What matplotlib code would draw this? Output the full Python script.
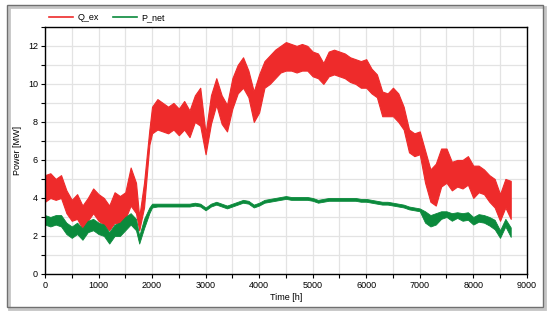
import matplotlib
matplotlib.use("Agg")
import matplotlib.pyplot as plt
from matplotlib.patches import Rectangle
from matplotlib.lines import Line2D
from matplotlib.ticker import MultipleLocator

plt.rcParams['font.family'] = ['Liberation Sans', 'DejaVu Sans']

# hour of year where the envelope was read (about every 100 h)
hours = [0, 100, 200, 300, 400, 500, 600, 700, 800, 900,
         1000, 1100, 1200, 1300, 1400, 1500, 1600, 1700, 1760, 1850,
         1950, 2000, 2100, 2200, 2300, 2400, 2500, 2600, 2700, 2800,
         2900, 3000, 3100, 3200, 3300, 3400, 3500, 3600, 3700, 3800,
         3900, 4000, 4100, 4200, 4300, 4400, 4500, 4600, 4700, 4800,
         4900, 5000, 5100, 5200, 5300, 5400, 5500, 5600, 5700, 5800,
         5900, 6000, 6100, 6200, 6300, 6400, 6500, 6600, 6700, 6800,
         6900, 7000, 7100, 7200, 7300, 7400, 7500, 7600, 7700, 7800,
         7900, 8000, 8100, 8200, 8300, 8400, 8500, 8600, 8700]

# Q_ex upper / lower envelope [MW]
q_hi = [5.2, 5.3, 5.0, 5.2, 4.4, 3.9, 4.2, 3.6, 4.0, 4.5,
        4.2, 4.0, 3.6, 4.3, 4.1, 4.3, 5.6, 4.8, 3.0, 4.8,
        7.6, 8.8, 9.2, 9.0, 8.8, 9.0, 8.7, 9.1, 8.6, 9.4,
        9.8, 7.4, 9.4, 10.3, 9.4, 8.9, 10.3, 11.0, 11.4, 10.7,
        9.6, 10.5, 11.2, 11.5, 11.8, 12.0, 12.2, 12.1, 12.0, 12.1,
        12.0, 11.7, 11.6, 11.1, 11.7, 11.8, 11.7, 11.6, 11.4, 11.3,
        11.2, 11.3, 10.8, 10.5, 9.6, 9.5, 9.8, 9.5, 8.8, 7.6,
        7.4, 7.5, 6.5, 5.5, 5.8, 6.6, 6.6, 5.9, 6.0, 6.0,
        6.2, 5.7, 5.7, 5.5, 5.2, 5.0, 4.2, 5.0, 4.9]
q_lo = [3.8, 4.0, 3.9, 4.0, 3.2, 2.8, 2.9, 2.4, 2.8, 3.2,
        2.8, 2.6, 2.3, 2.7, 2.6, 2.9, 3.6, 3.2, 2.3, 3.5,
        6.8, 7.4, 7.6, 7.5, 7.4, 7.6, 7.3, 7.6, 7.2, 8.0,
        7.8, 6.3, 7.9, 8.9, 7.9, 7.5, 8.7, 9.5, 9.8, 9.3,
        8.0, 8.5, 9.8, 10.0, 10.3, 10.6, 10.7, 10.7, 10.6, 10.7,
        10.7, 10.4, 10.3, 10.0, 10.4, 10.5, 10.4, 10.3, 10.1, 10.0,
        9.8, 9.8, 9.5, 9.3, 8.3, 8.3, 8.3, 8.0, 7.6, 6.4,
        6.2, 6.3, 4.8, 3.8, 3.6, 4.6, 4.8, 4.4, 4.6, 4.5,
        4.7, 4.0, 4.3, 4.2, 3.8, 3.5, 2.8, 3.5, 2.9]

# P_net upper / lower envelope [MW]
p_hi = [3.1, 3.0, 3.1, 3.1, 2.7, 2.5, 2.7, 2.4, 2.8, 2.9,
        2.7, 2.6, 2.2, 2.6, 2.7, 3.0, 3.2, 2.9, 2.0, 2.9,
        3.5, 3.7, 3.7, 3.7, 3.7, 3.7, 3.7, 3.7, 3.7, 3.75,
        3.7, 3.5, 3.7, 3.8, 3.7, 3.6, 3.7, 3.8, 3.9, 3.85,
        3.65, 3.75, 3.9, 3.95, 4.0, 4.05, 4.1, 4.05, 4.05, 4.05,
        4.05, 4.0, 3.9, 3.95, 4.0, 4.0, 4.0, 4.0, 4.0, 4.0,
        3.95, 3.95, 3.9, 3.85, 3.8, 3.8, 3.75, 3.7, 3.65, 3.55,
        3.5, 3.45, 3.3, 3.1, 3.2, 3.3, 3.3, 3.2, 3.25, 3.2,
        3.25, 3.0, 3.15, 3.1, 3.0, 2.85, 2.3, 2.9, 2.45]
p_lo = [2.6, 2.5, 2.6, 2.5, 2.1, 1.9, 2.1, 1.8, 2.2, 2.3,
        2.1, 2.0, 1.6, 2.0, 2.0, 2.3, 2.6, 2.3, 1.6, 2.4,
        3.2, 3.5, 3.55, 3.55, 3.55, 3.55, 3.55, 3.55, 3.55, 3.6,
        3.55, 3.35, 3.55, 3.65, 3.55, 3.45, 3.55, 3.65, 3.75, 3.7,
        3.5, 3.6, 3.75, 3.8, 3.85, 3.9, 3.95, 3.9, 3.9, 3.9,
        3.9, 3.85, 3.75, 3.8, 3.85, 3.85, 3.85, 3.85, 3.85, 3.85,
        3.8, 3.8, 3.75, 3.7, 3.65, 3.65, 3.6, 3.55, 3.5, 3.4,
        3.35, 3.3, 2.7, 2.5, 2.6, 2.9, 3.0, 2.8, 2.95, 2.8,
        2.85, 2.6, 2.75, 2.7, 2.55, 2.35, 1.9, 2.5, 1.95]

red = '#EE2B2B'
green = '#0B8A3C'

fig = plt.figure(figsize=(5.5, 3.14), dpi=100)
ax = fig.add_axes([0.0818, 0.1274, 0.876, 0.787])

# hourly data is so dense it reads as a band between the envelopes
ax.fill_between(hours, q_lo, q_hi, color=red, edgecolor=red, lw=0.8)
ax.fill_between(hours, p_lo, p_hi, color=green, edgecolor=green, lw=0.6)

ax.set_xlim(0, 9000)
ax.set_ylim(0, 13)
ax.xaxis.set_major_locator(MultipleLocator(1000))
ax.xaxis.set_minor_locator(MultipleLocator(500))
ax.yaxis.set_major_locator(MultipleLocator(2))
ax.yaxis.set_minor_locator(MultipleLocator(1))
ax.grid(True, which='both', color='#E3E3E3', lw=0.9)
ax.set_axisbelow(True)
ax.tick_params(which='both', direction='out', length=3, width=0.8,
               labelsize=6.5, colors='black', pad=2)
for s in ax.spines.values():
    s.set_linewidth(1.0)
    s.set_color('black')

ax.set_xlabel('Time [h]', fontsize=6.5, labelpad=2)
ax.set_ylabel('Power [MW]', fontsize=6.5, labelpad=4)

handles = [Line2D([], [], color=red, lw=1.2), Line2D([], [], color=green, lw=1.2)]
fig.legend(handles, ['Q_ex', 'P_net'], loc='upper left',
           bbox_to_anchor=(0.075, 0.985), ncol=2, frameon=False, fontsize=6.5,
           handlelength=2.6, columnspacing=1.6, handletextpad=0.5)

# outer frame with a soft shadow
fig.patches.append(Rectangle((0.0165, 0.0165), 0.974, 0.962, transform=fig.transFigure,
                             fill=False, edgecolor='#C4C4C4', lw=2.0, zorder=0))
fig.patches.append(Rectangle((0.0127, 0.0223), 0.974, 0.962, transform=fig.transFigure,
                             fill=False, edgecolor='#707070', lw=1.0, zorder=1))

fig.savefig('out.png', dpi=100)
